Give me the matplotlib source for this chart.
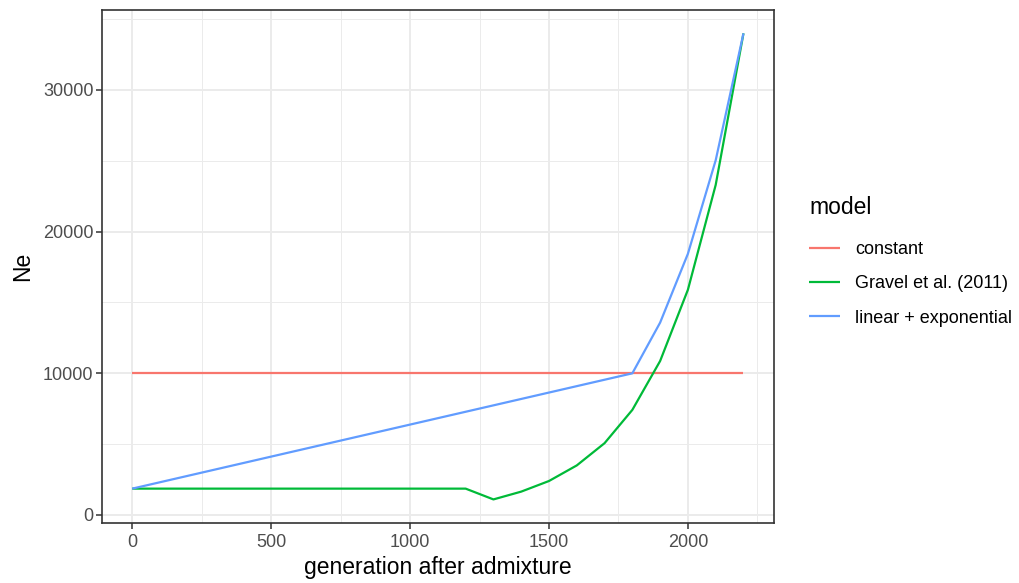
import matplotlib.pyplot as plt
from matplotlib.ticker import MultipleLocator

plt.rcParams['font.family'] = ['Liberation Sans', 'DejaVu Sans']

# effective population size per model, by generation after admixture
gen_constant = [0, 2200]
ne_constant = [10000, 10000]

gen_gravel = [0, 100, 200, 300, 400, 500, 600, 700, 800, 900, 1000, 1100, 1200,
              1300, 1400, 1500, 1600, 1700, 1800, 1900, 2000, 2100, 2200]
ne_gravel = [1861] * 13 + [1100, 1650, 2400, 3500, 5070, 7420, 10870, 15900,
                           23300, 34000]

gen_linexp = [0, 1800, 1900, 2000, 2100, 2200]
ne_linexp = [1861, 10000, 13580, 18440, 25040, 34000]

models = ['constant', 'Gravel et al. (2011)', 'linear + exponential']
colors = ['#F8766D', '#00BA38', '#619CFF']

fig = plt.figure(figsize=(10.19, 5.83), dpi=100)
ax = fig.add_axes([0.0998, 0.1034, 0.6598, 0.8794])

series = [(gen_constant, ne_constant), (gen_gravel, ne_gravel),
          (gen_linexp, ne_linexp)]
for (x, y), name, c in zip(series, models, colors):
    ax.plot(x, y, color=c, lw=1.6, label=name, solid_capstyle='butt')

# 5% padding on each side of the data range
xs = [v for x, _ in series for v in x]
ys = [v for _, y in series for v in y]
xpad = 0.05 * (max(xs) - min(xs))
ypad = 0.05 * (max(ys) - min(ys))
ax.set_xlim(min(xs) - xpad, max(xs) + xpad)
ax.set_ylim(min(ys) - ypad, max(ys) + ypad)

ax.xaxis.set_major_locator(MultipleLocator(500))
ax.xaxis.set_minor_locator(MultipleLocator(250))
ax.yaxis.set_major_locator(MultipleLocator(10000))
ax.yaxis.set_minor_locator(MultipleLocator(5000))

ax.grid(which='major', color='#EBEBEB', lw=1.4)
ax.grid(which='minor', color='#EBEBEB', lw=0.7)
ax.set_axisbelow(True)
for s in ax.spines.values():
    s.set_color('#333333')
    s.set_linewidth(1.2)
ax.tick_params(which='major', length=4, width=1.1, color='#333333',
               labelcolor='#4D4D4D', labelsize=13, pad=2)
ax.tick_params(axis='x', which='major', pad=4)
ax.tick_params(which='minor', length=0)

ax.set_xlabel('generation after admixture', fontsize=16.5, labelpad=4)
ax.set_ylabel('Ne', fontsize=16.5, labelpad=6)

leg = ax.legend(loc='center left', bbox_to_anchor=(1.052, 0.51), frameon=False,
                title='model', fontsize=13, title_fontsize=16.5,
                handlelength=1.7, handletextpad=0.85, labelspacing=0.95,
                borderpad=0, borderaxespad=0)
leg._legend_box.align = 'left'
leg._legend_box.sep = 16

fig.savefig('out.png', dpi=100)
